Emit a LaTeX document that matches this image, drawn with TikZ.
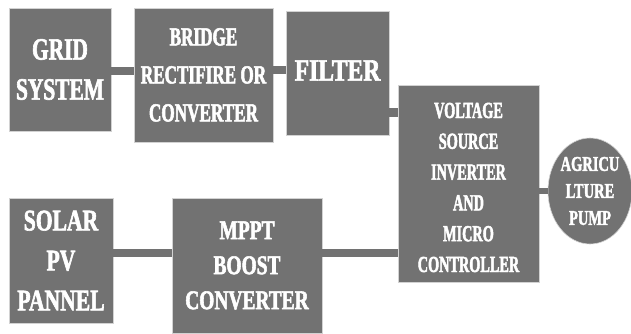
\documentclass[tikz,border=0pt]{standalone}
\usepackage{fontspec}
\usetikzlibrary{shapes.geometric,calc}
\definecolor{blockgray}{HTML}{727272}
\definecolor{edgegray}{HTML}{D2D2D2}
% condensed heavy serif: size, baselineskip, horizontal stretch
\newcommand\blockfont[3]{\fontspec[FakeStretch=#3,FakeBold=2]{Liberation Serif Bold}\fontsize{#1}{#2}\selectfont}
\begin{document}
\begin{tikzpicture}[x=1pt,y=1pt,
  block/.style={rectangle, fill=blockgray, draw=edgegray, line width=0.6pt,
    text=white, align=center, inner sep=0pt},
  roundblock/.style={ellipse, fill=blockgray, draw=edgegray, line width=0.6pt,
    text=white, align=center, inner sep=0pt},
  conn/.style={draw=blockgray, line width=8pt}]
\useasboundingbox (0,0) rectangle (631,333);

% power chain from the grid
\node[block, minimum width=102, minimum height=123, font=\blockfont{31}{40}{0.69}]
  (grid) at (60,263.5) {GRID\\SYSTEM};
\node[block, minimum width=139, minimum height=134, font=\blockfont{26}{38}{0.66}]
  (bridge) at (203.5,258) {BRIDGE\\RECTIFIRE OR\\CONVERTER};
\node[block, minimum width=103, minimum height=124, font=\blockfont{31}{38}{0.76}]
  (filter) at (337.5,260) {\raisebox{5pt}{FILTER}};

% inverter and load
\node[block, minimum width=141, minimum height=197]
  (vsi) at (468.5,149.5) {};
\node[font=\blockfont{23}{30.8}{0.62}, text=white, align=center, inner sep=0pt]
  (vsitext) at (468.5,145.5) {VOLTAGE\\SOURCE\\INVERTER\\AND\\MICRO\\CONTROLLER};
\node[roundblock, minimum width=84, minimum height=106, font=\blockfont{21}{27}{0.69}]
  (pump) at (590,142) {AGRICU\\LTURE\\PUMP};

% solar chain
\node[block, minimum width=104, minimum height=125, font=\blockfont{30}{40}{0.72}]
  (solar) at (61,72.5) {SOLAR\\PV\\PANNEL};
\node[block, minimum width=150, minimum height=135, font=\blockfont{27}{35}{0.72}]
  (mppt) at (247,67.5) {MPPT\\BOOST\\CONVERTER};

% connectors
\coordinate (gb) at ([yshift=-1.5pt]grid.east);
\draw[conn] (gb) -- (gb -| bridge.west);
\coordinate (bf) at ([yshift=5pt]bridge.east);
\draw[conn] (bf) -- (bf -| filter.west);
\coordinate (fv) at ([yshift=-39pt]filter.east);
\draw[conn, line width=9pt] (fv) -- (fv -| vsi.west);
\draw[conn, line width=6pt] (vsi.east |- pump.west) -- (pump.west);
\coordinate (sm) at ([yshift=7.5pt]solar.east);
\draw[conn] (sm) -- (sm -| mppt.west);
\coordinate (mv) at ([yshift=12.5pt]mppt.east);
\draw[conn] (mv) -- (mv -| vsi.west);
\end{tikzpicture}
\end{document}
